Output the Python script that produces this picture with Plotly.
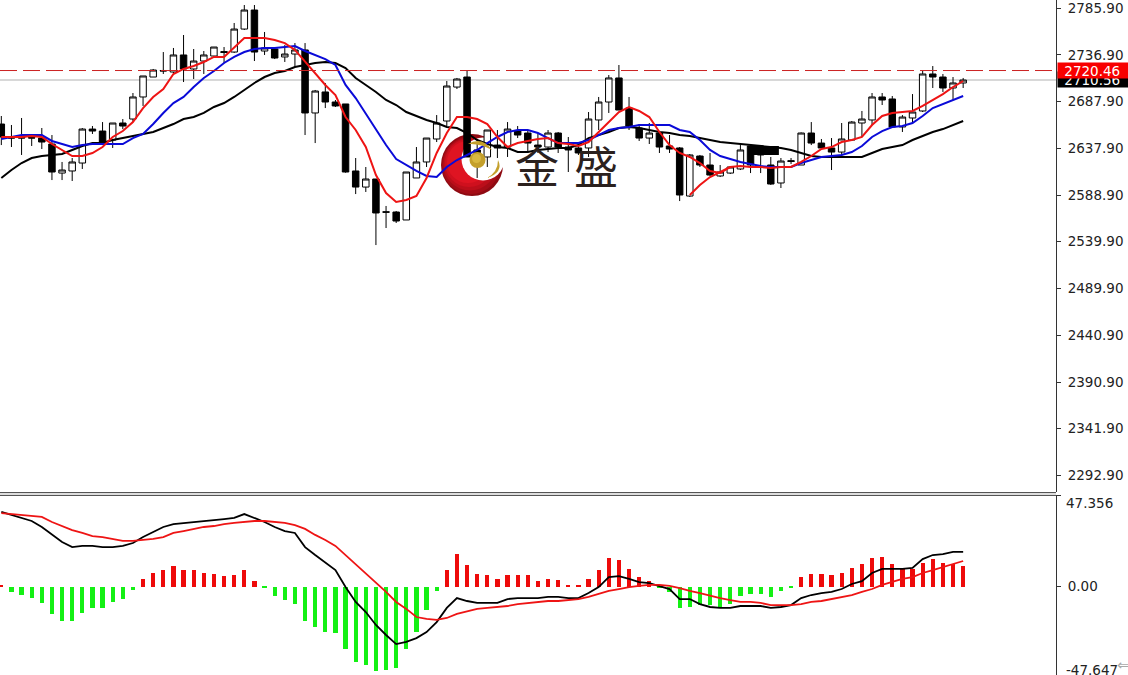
import plotly.graph_objects as go

opens = [2663.9,2649.6,2650.2,2649.6,2649.1,2642.8,2612.1,2614.3,2622.7,2658.6,
2656.5,2647.0,2665.0,2669.2,2692.5,2713.6,2720.5,2718.9,2736.9,2722.1,
2730.5,2735.8,2740.5,2740.0,2764.3,2784.4,2741.1,2743.2,2734.8,2737.9,
2742.2,2675.6,2697.8,2687.2,2685.1,2614.3,2597.3,2605.8,2571.2,2570.9,
2562.5,2606.9,2623.8,2648.1,2667.1,2703.0,2713.6,2636.5,2629.1,2641.7,
2639.6,2656.5,2654.4,2641.7,2639.6,2654.4,2639.6,2638.6,2638.6,2668.2,
2687.2,2712.6,2680.8,2659.7,2649.1,2654.4,2640.7,2638.6,2587.8,2630.1,
2620.6,2609.0,2612.1,2616.4,2640.7,2640.7,2620.6,2601.6,2625.2,2620.6,
2654.4,2643.8,2638.6,2634.3,2647.0,2665.0,2668.2,2692.5,2690.4,2660.8,
2670.3,2677.7,2716.8,2713.6,2702.0,2707.3]
highs = [2672.4,2662.9,2670.3,2652.3,2659.7,2652.3,2623.8,2628.0,2659.7,2661.8,
2666.0,2665.0,2669.2,2696.7,2714.7,2722.1,2740.0,2744.3,2758.0,2743.2,
2741.1,2745.3,2745.3,2770.7,2789.7,2789.7,2761.2,2744.3,2747.4,2749.5,
2749.5,2699.9,2707.3,2689.3,2685.1,2628.0,2618.5,2605.8,2577.3,2572.0,
2613.2,2639.6,2649.1,2673.4,2709.4,2712.6,2720.0,2643.8,2657.6,2657.6,
2666.0,2661.8,2657.6,2654.4,2657.6,2655.5,2650.2,2641.7,2676.6,2692.5,
2715.7,2726.3,2692.5,2663.9,2665.0,2654.4,2652.3,2639.6,2632.2,2631.2,
2633.3,2620.6,2618.5,2641.7,2641.7,2640.7,2629.1,2628.0,2628.0,2655.0,
2666.0,2648.1,2649.1,2665.0,2667.1,2677.7,2696.7,2696.7,2693.5,2673.4,
2695.6,2720.0,2725.2,2716.8,2713.6,2712.6]
lows = [2641.7,2639.6,2631.2,2640.7,2637.5,2604.7,2604.7,2603.7,2616.4,2653.4,
2642.8,2638.6,2658.6,2666.0,2683.0,2713.6,2716.8,2717.8,2708.3,2711.5,
2716.8,2734.8,2728.4,2739.0,2763.3,2730.5,2736.9,2732.6,2729.5,2724.2,
2652.3,2643.8,2680.8,2681.9,2612.5,2589.9,2592.1,2536.0,2554.0,2559.3,
2562.5,2606.9,2618.5,2644.9,2661.8,2700.9,2629.1,2606.9,2618.5,2628.0,
2629.1,2649.1,2633.3,2633.3,2634.3,2633.3,2613.2,2631.2,2629.1,2657.6,
2675.6,2678.7,2657.6,2646.0,2642.8,2633.3,2633.3,2582.5,2586.8,2618.5,
2609.0,2607.9,2611.1,2615.3,2612.1,2612.1,2599.5,2596.3,2621.7,2620.6,
2641.7,2638.6,2615.3,2629.1,2646.0,2650.2,2662.9,2684.0,2659.7,2655.5,
2666.0,2676.6,2702.0,2697.8,2689.3,2702.0]
closes = [2650.2,2649.1,2649.1,2649.1,2644.9,2613.2,2615.3,2623.8,2658.6,2656.5,
2644.9,2665.0,2661.8,2692.5,2714.7,2721.0,2720.0,2736.9,2722.1,2730.5,
2736.9,2745.3,2739.5,2764.3,2784.4,2740.0,2744.3,2733.7,2737.9,2742.2,
2675.6,2698.8,2687.2,2683.0,2613.2,2597.3,2605.8,2569.9,2570.7,2561.4,
2613.2,2623.8,2649.1,2665.0,2704.1,2711.5,2629.1,2622.7,2657.6,2638.6,
2658.6,2652.3,2643.8,2639.6,2654.4,2639.6,2636.5,2633.3,2669.2,2687.2,
2712.6,2678.7,2661.8,2649.1,2654.4,2639.6,2637.5,2588.9,2631.2,2620.6,
2610.0,2613.2,2618.5,2636.5,2620.6,2631.2,2600.5,2624.8,2624.4,2654.4,
2643.8,2638.6,2634.3,2648.1,2666.0,2669.2,2692.5,2689.3,2660.8,2671.3,
2676.6,2716.8,2713.6,2702.0,2707.3,2710.4]

ma_red = [2650.2,2650.2,2650.2,2651.2,2650.2,2642.8,2636.5,2630.1,2630.1,2633.3,
2639.6,2650.2,2656.5,2666.0,2680.8,2692.5,2700.9,2716.8,2722.1,2725.2,
2729.5,2734.8,2734.8,2744.3,2754.8,2754.8,2754.8,2752.7,2749.5,2742.2,
2729.5,2717.8,2705.2,2694.6,2671.3,2657.6,2639.6,2610.0,2591.0,2581.5,
2583.6,2587.8,2606.9,2633.3,2654.4,2671.3,2671.3,2669.2,2663.9,2650.2,
2639.6,2643.8,2646.0,2648.1,2649.1,2643.8,2642.8,2640.7,2644.9,2655.5,
2666.0,2676.6,2681.9,2677.7,2671.3,2655.5,2641.7,2633.3,2629.1,2622.7,
2614.3,2612.1,2618.5,2619.5,2618.5,2618.5,2617.4,2618.5,2618.5,2623.8,
2630.1,2637.5,2639.6,2644.9,2647.0,2650.2,2662.9,2672.4,2675.6,2676.6,
2677.7,2683.0,2689.3,2695.6,2703.0,2709.4]
ma_red_branch_x = [68,69,70,71,72]
ma_red_branch = [2588.9,2599.5,2607.9,2613.2,2618.5]
ma_blue = [2648.1,2650.2,2652.3,2652.3,2652.3,2646.0,2642.8,2639.6,2641.7,2642.8,
2642.8,2642.8,2642.8,2649.1,2653.4,2663.9,2675.6,2686.1,2692.5,2703.0,
2712.6,2720.0,2728.4,2734.8,2740.0,2743.2,2744.3,2744.3,2745.3,2746.4,
2741.1,2736.9,2732.6,2726.3,2705.2,2691.4,2674.5,2657.6,2641.7,2626.9,
2620.6,2614.3,2609.0,2607.9,2618.5,2625.9,2631.2,2636.5,2643.8,2650.2,
2655.5,2657.6,2657.6,2654.4,2649.1,2643.8,2643.8,2643.8,2647.0,2652.3,
2657.6,2659.7,2660.8,2662.9,2662.9,2662.9,2662.9,2657.6,2655.5,2647.0,
2636.5,2630.1,2626.9,2623.8,2621.7,2619.5,2618.5,2618.5,2618.5,2622.7,
2625.9,2629.1,2630.1,2631.2,2634.3,2640.7,2650.2,2656.5,2660.8,2661.8,
2665.0,2672.4,2680.8,2685.1,2689.3,2693.5]
ma_black = [2606.9,2615.3,2622.7,2628.0,2630.1,2631.2,2632.2,2636.5,2640.7,2643.8,
2643.8,2647.0,2649.1,2651.2,2653.4,2655.5,2659.7,2663.9,2669.2,2671.3,
2675.6,2681.9,2686.1,2692.5,2699.9,2707.3,2713.6,2717.8,2720.0,2724.2,
2726.3,2728.4,2729.5,2728.4,2723.1,2712.6,2705.2,2697.8,2689.3,2684.0,
2676.6,2672.4,2668.2,2665.0,2660.8,2659.7,2654.4,2647.0,2642.8,2639.6,
2638.6,2634.3,2634.3,2636.5,2637.5,2638.6,2638.6,2641.7,2649.1,2652.3,
2655.5,2659.7,2660.8,2659.7,2657.6,2655.5,2654.4,2652.3,2651.2,2649.1,
2647.0,2644.9,2643.8,2642.8,2641.7,2640.7,2639.6,2638.6,2636.5,2633.3,
2630.1,2629.1,2629.1,2629.1,2629.1,2629.1,2633.3,2637.5,2639.6,2641.7,
2647.0,2651.2,2655.5,2658.6,2662.9,2667.1]

macd_line = [38.6,37.0,35.5,33.9,30.8,26.7,23.0,20.4,21.0,21.0,
20.4,20.4,21.0,22.5,25.6,28.2,30.8,32.3,32.9,33.4,
33.9,34.4,34.9,35.5,37.5,35.5,33.4,30.8,28.7,27.7,
20.4,16.3,12.2,8.5,-0.3,-8.0,-13.2,-19.9,-25.1,-29.8,
-28.7,-26.7,-23.6,-18.4,-11.1,-6.0,-7.5,-8.5,-8.5,-8.5,
-6.5,-6.0,-6.0,-6.0,-5.4,-5.4,-6.0,-6.0,-3.4,-0.3,
4.9,5.4,3.9,2.3,1.8,0.3,-1.3,-6.5,-6.5,-9.1,
-10.6,-11.1,-11.1,-10.1,-10.1,-10.1,-11.1,-10.6,-9.6,-6.0,
-4.4,-3.4,-2.8,-1.3,1.3,2.8,7.0,9.1,9.1,9.1,
9.6,14.2,16.3,16.8,17.9,17.9]
signal_line = [38.0,37.5,37.0,36.5,36.0,33.4,31.3,29.2,27.7,26.1,
25.6,24.6,23.6,23.6,24.1,24.6,25.6,27.7,28.7,29.8,
30.8,31.3,32.3,32.9,33.4,33.9,33.9,33.4,32.9,31.8,
29.8,26.7,24.1,21.0,16.3,11.6,7.0,2.3,-2.8,-8.0,
-11.6,-15.8,-16.8,-17.3,-16.3,-14.2,-12.7,-11.6,-11.1,-10.6,
-10.1,-9.1,-8.5,-8.0,-7.5,-7.5,-7.0,-6.5,-5.4,-3.9,
-2.3,-1.3,-0.3,0.3,0.8,0.8,0.3,-0.8,-2.3,-3.4,
-4.9,-6.0,-7.0,-8.0,-8.0,-8.5,-9.6,-9.6,-9.6,-9.1,
-8.0,-7.5,-6.5,-5.4,-4.4,-2.8,-1.3,0.8,2.3,3.9,
4.9,7.0,8.5,10.1,11.6,13.2]
hist = [0.5,-2.6,-4.3,-6.2,-8.3,-14.0,-17.6,-18.1,-13.5,-10.9,
-10.9,-7.8,-6.7,-1.6,4.1,7.2,8.3,10.4,8.8,8.3,
7.2,6.7,5.2,6.2,8.3,3.1,-1.0,-4.7,-7.2,-8.8,
-18.1,-20.7,-23.3,-24.3,-32.6,-39.3,-40.4,-43.5,-43.0,-42.4,
-32.1,-23.3,-11.9,-2.1,8.8,16.6,10.9,6.7,5.7,4.1,
6.2,6.2,5.7,3.1,4.1,3.6,1.0,0.5,4.1,8.8,
14.5,13.5,9.3,4.7,2.6,-0.5,-2.6,-10.9,-10.4,-9.8,
-9.8,-10.4,-8.8,-4.7,-4.1,-4.1,-5.2,-2.1,-1.0,4.7,
6.7,6.7,5.7,7.2,9.8,11.4,14.5,15.5,11.9,9.8,
9.3,12.4,14.0,12.4,11.9,10.4]

price_ticks = [2785.90,2736.90,2687.90,2637.90,2588.90,2539.90,2489.90,2440.90,2390.90,2341.90,2292.90]
ask_price = 2720.46
bid_price = 2710.56
block_x = [73.8, 76.8]
block_y = [2640.7, 2631.2]
macd_top = 47.356
macd_bottom_label = -47.647

W, H, PW = 1128, 675, 1056
xs = list(range(len(opens)))
def px(x): return x / PW
def py(y): return 1 - y / H

fig = go.Figure()
fig.add_trace(go.Candlestick(
    x=xs, open=opens, high=highs, low=lows, close=closes, xaxis="x", yaxis="y",
    increasing=dict(line=dict(color="black", width=1), fillcolor="white"),
    decreasing=dict(line=dict(color="black", width=1), fillcolor="black"),
    whiskerwidth=0, showlegend=False, hoverinfo="skip"))
for vals, col in [(ma_black, "#000000"), (ma_blue, "#0a0ad8"), (ma_red, "#ee1414")]:
    fig.add_trace(go.Scatter(x=xs, y=vals, mode="lines", line=dict(color=col, width=2),
                             showlegend=False, hoverinfo="skip"))
fig.add_trace(go.Scatter(x=ma_red_branch_x, y=ma_red_branch, mode="lines",
                         line=dict(color="#ee1414", width=2), showlegend=False, hoverinfo="skip"))

fig.add_trace(go.Bar(x=xs, y=hist, width=0.42, xaxis="x2", yaxis="y2",
                     marker=dict(color=["#ee0a0a" if v > 0 else "#14f014" for v in hist], line=dict(width=0)),
                     showlegend=False, hoverinfo="skip"))
fig.add_trace(go.Scatter(x=xs, y=macd_line, xaxis="x2", yaxis="y2", mode="lines",
                         line=dict(color="black", width=1.8), showlegend=False, hoverinfo="skip"))
fig.add_trace(go.Scatter(x=xs, y=signal_line, xaxis="x2", yaxis="y2", mode="lines",
                         line=dict(color="#ee1414", width=1.8), showlegend=False, hoverinfo="skip"))

shapes = []
shapes.append(dict(type="line", xref="paper", yref="y", x0=0, x1=1, y0=bid_price, y1=bid_price,
                   line=dict(color="#d8d8d8", width=2), layer="below"))
shapes.append(dict(type="line", xref="paper", yref="y", x0=0, x1=1, y0=ask_price, y1=ask_price,
                   line=dict(color="#cc2222", width=1, dash="17px,6px"), layer="above"))
shapes.append(dict(type="rect", xref="x", yref="y", x0=block_x[0], x1=block_x[1], y0=block_y[0], y1=block_y[1],
                   fillcolor="black", line=dict(width=0), layer="above"))
for yy in (492.5, 495.5):
    shapes.append(dict(type="line", xref="paper", yref="paper", x0=0, x1=1, y0=py(yy), y1=py(yy),
                       line=dict(color="#555555", width=1)))
shapes.append(dict(type="line", xref="paper", yref="paper", x0=0, x1=1, y0=py(494), y1=py(494),
                   line=dict(color="#bbbbbb", width=1)))

def circle(cx, cy, r, color, layer="below"):
    return dict(type="circle", xref="paper", yref="paper", x0=px(cx - r), x1=px(cx + r),
                y0=py(cy + r), y1=py(cy - r), fillcolor=color, line=dict(width=0), layer=layer)

for cx, cy, r, col in [(472, 165, 31, "#8e0a12"), (471, 165, 29, "#a50c16"), (470, 164, 26.5, "#bb0e1a"),
                       (469, 163, 24, "#cf101e"), (468, 162, 21, "#df1422")]:
    shapes.append(circle(cx, cy, r, col))
shapes.append(circle(483, 159, 21.5, "#ffffff"))
shapes.append(circle(477.5, 160, 8, "#c4a02c", layer="above"))
shapes.append(circle(476.5, 158.5, 4.5, "#d8b840", layer="above"))
def q(p0, c, p1, c2):
    return (f"M {px(p0[0])} {py(p0[1])} Q {px(c[0])} {py(c[1])} {px(p1[0])} {py(p1[1])} "
            f"Q {px(c2[0])} {py(c2[1])} {px(p0[0])} {py(p0[1])} Z")
shapes.append(dict(type="path", xref="paper", yref="paper", path=q((468, 144), (482, 136), (492, 150), (480, 143)),
                   fillcolor="#c4a02c", line=dict(width=0), layer="above"))
shapes.append(dict(type="path", xref="paper", yref="paper", path=q((498, 160), (504, 172), (487, 178), (498, 172)),
                   fillcolor="#c4a02c", line=dict(width=0), layer="above"))

annotations = []
LABEL = dict(family="DejaVu Sans", size=13.5, color="#222222")
annotations.append(dict(xref="paper", yref="y", x=1, xshift=1, y=bid_price, xanchor="left", yanchor="middle",
                        text="\u00a02710.56", showarrow=False, bgcolor="black", width=72, height=11, borderpad=2,
                        align="left", font=dict(family="DejaVu Sans", size=13.5, color="white")))
annotations.append(dict(xref="paper", yref="y", x=1, xshift=1, y=ask_price, xanchor="left", yanchor="middle",
                        text="\u00a02720.46", showarrow=False, bgcolor="#f80000", width=72, height=11, borderpad=2,
                        align="left", font=dict(family="DejaVu Sans", size=13.5, color="white")))
annotations.append(dict(xref="paper", yref="paper", x=px(1064), y=py(503), xanchor="left", yanchor="middle",
                        text=f"{macd_top:.3f}", showarrow=False, font=LABEL))
annotations.append(dict(xref="paper", yref="paper", x=px(1064), y=py(670), xanchor="left", yanchor="middle",
                        text=f"{macd_bottom_label:.3f}", showarrow=False, font=LABEL))
annotations.append(dict(xref="paper", yref="paper", x=px(1123), y=py(665), xanchor="center", yanchor="middle",
                        text="\u21d0", showarrow=False, font=dict(family="DejaVu Sans", size=15, color="#aaaaaa")))
for ch, cx in [("金", 537), ("盛", 596)]:
    annotations.append(dict(xref="paper", yref="paper", x=px(cx), y=py(165), xanchor="center", yanchor="middle",
                            text=ch, showarrow=False,
                            font=dict(family="Noto Sans CJK SC", size=44, color="#2b211e")))

xrange_ = [-0.13, 104.17]
fig.update_layout(
    width=W, height=H, autosize=False,
    margin=dict(l=0, r=W - PW, t=0, b=0),
    paper_bgcolor="white", plot_bgcolor="white", bargap=0, boxgap=0.2, boxgroupgap=0.2,
    shapes=shapes, annotations=annotations, showlegend=False,
    xaxis=dict(domain=[0, 1], range=xrange_, visible=False, rangeslider=dict(visible=False)),
    xaxis2=dict(domain=[0, 1], range=xrange_, visible=False, anchor="y2"),
    yaxis=dict(domain=[1 - 492 / H, 1], range=[2275, 2795], side="right", anchor="x",
               tickvals=price_ticks, ticktext=[f"{v:.2f}" for v in price_ticks],
               ticks="outside", ticklen=4, tickcolor="#333333", ticklabelstandoff=4,
               showgrid=False, zeroline=False, showline=True, linecolor="#333333", linewidth=1,
               tickfont=LABEL),
    yaxis2=dict(domain=[0, 1 - 495 / H], range=[-45.8, macd_top], side="right", anchor="x2",
                tickvals=[0, macd_top], ticktext=["0.00", ""],
                ticks="outside", ticklen=4, tickcolor="#333333", ticklabelstandoff=4,
                showgrid=False, zeroline=False, showline=True, linecolor="#333333", linewidth=1,
                tickfont=LABEL),
)
fig.write_html("out.html", config=dict(displayModeBar=False),
               post_script="document.body.style.margin='0';document.body.style.overflow='hidden';")
